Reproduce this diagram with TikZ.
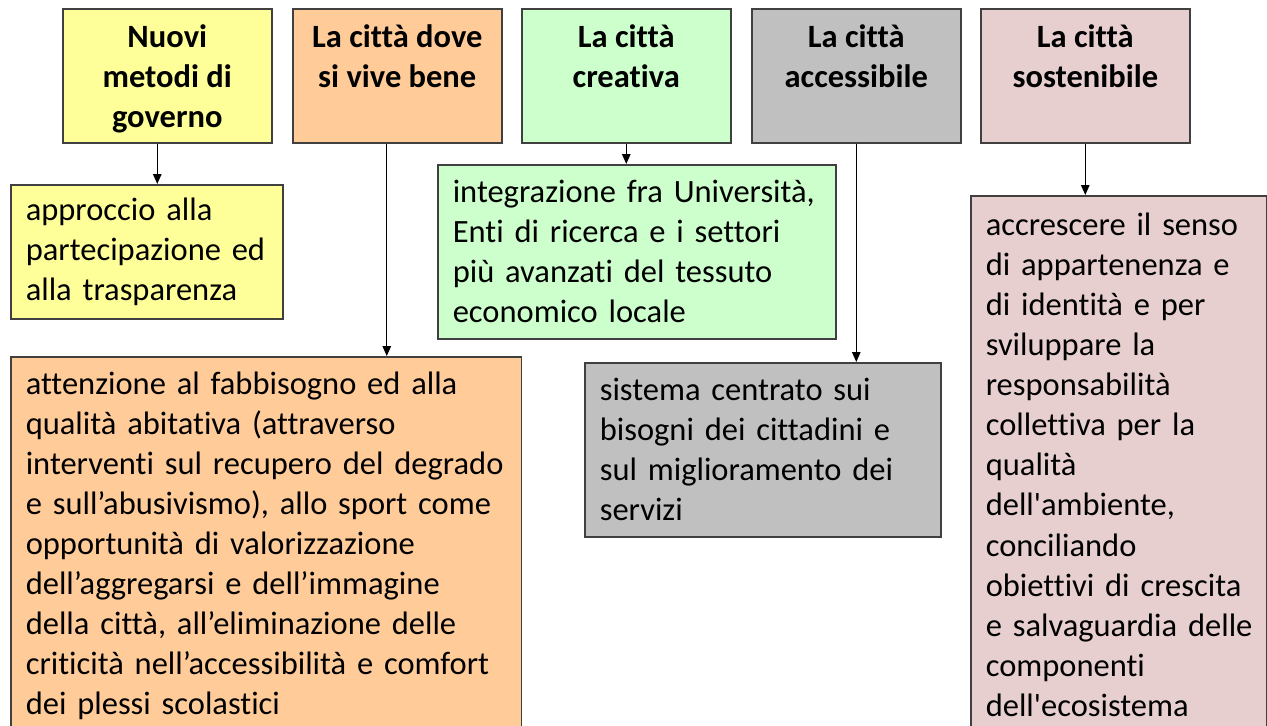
\documentclass[tikz,border=0pt]{standalone}
\usepackage{fontspec}
\setmainfont[Ligatures={TeX,NoCommon}]{Carlito}
\usetikzlibrary{arrows.meta}
\definecolor{govyellow}{HTML}{FFFF99}
\definecolor{liveorange}{HTML}{FFCC99}
\definecolor{creagreen}{HTML}{CCFFCC}
\definecolor{accgray}{HTML}{C0C0C0}
\definecolor{sostpink}{HTML}{E7CFD0}

\begin{document}
\begin{tikzpicture}[x=0.02cm,y=-0.02cm,
	heading/.style={draw=black!75,line width=0.9pt,anchor=north west,align=center,inner sep=0pt,text depth=0pt,
		minimum width=4.18cm,minimum height=2.68cm,font=\bfseries\fontsize{18.5}{22.8}\selectfont},
	detail/.style={draw=black!75,line width=0.9pt,anchor=north west,align=left,inner xsep=0.3cm,inner ysep=0pt,
		font=\fontsize{18.5}{22.8}\selectfont},
	link/.style={-{Triangle[length=0.2cm,width=0.17cm]},line width=0.7pt}]
	\useasboundingbox (0,0) rectangle (1267,726);
	\clip (0,0) rectangle (1267,726);
	\node[heading,fill=govyellow] (gov) at (62,8) {Nuovi\\metodi di\\governo};
	\node[heading,fill=liveorange] (live) at (292,8) {La città dove\\si vive bene\\\mbox{}};
	\node[heading,fill=creagreen] (crea) at (521,8) {La città\\creativa\\\mbox{}};
	\node[heading,fill=accgray] (acc) at (751,8) {La città\\accessibile\\\mbox{}};
	\node[heading,fill=sostpink] (sost) at (980,8) {La città\\sostenibile\\\mbox{}};
	\node[detail,fill=govyellow,text width=4.84cm,minimum height=2.68cm] (govtxt) at (10,184)
		{approccio alla\\partecipazione ed\\alla trasparenza};
	\node[detail,fill=liveorange,text width=9.62cm,minimum height=7.56cm] (livetxt) at (10,356)
		{attenzione al fabbisogno ed alla\\qualità abitativa (attraverso\\interventi sul recupero del degrado\\e sull’abusivismo), allo sport come\\opportunità di valorizzazione\\dell’aggregarsi e dell’immagine\\della città, all’eliminazione delle\\criticità nell’accessibilità e comfort\\dei plessi scolastici};
	\node[detail,fill=creagreen,text width=7.36cm,minimum height=3.48cm] (creatxt) at (437,164)
		{integrazione fra Università,\\Enti di ricerca e i settori\\più avanzati del tessuto\\economico locale};
	\node[detail,fill=accgray,text width=6.52cm,minimum height=3.48cm] (acctxt) at (584,362)
		{sistema centrato sui\\bisogni dei cittadini e\\sul miglioramento dei\\servizi};
	\node[detail,fill=sostpink,text width=5.32cm,minimum height=10.76cm] (sosttxt) at (970,195)
		{accrescere il senso\\di appartenenza e\\di identità e per\\sviluppare la\\responsabilità\\collettiva per la\\qualità\\dell\textquotesingle ambiente,\\conciliando\\obiettivi di crescita\\\mbox{e salvaguardia delle}\\componenti\\dell\textquotesingle ecosistema};
	\draw[link] ([xshift=-0.2cm]gov.south) -- ([xshift=-0.2cm]gov.south |- govtxt.north);
	\draw[link] ([xshift=-0.21cm]live.south) -- ([xshift=-0.21cm]live.south |- livetxt.north);
	\draw[link] (crea.south) -- (crea.south |- creatxt.north);
	\draw[link] (acc.south) -- (acc.south |- acctxt.north);
	\draw[link] (sost.south) -- (sost.south |- sosttxt.north);
\end{tikzpicture}
\end{document}
